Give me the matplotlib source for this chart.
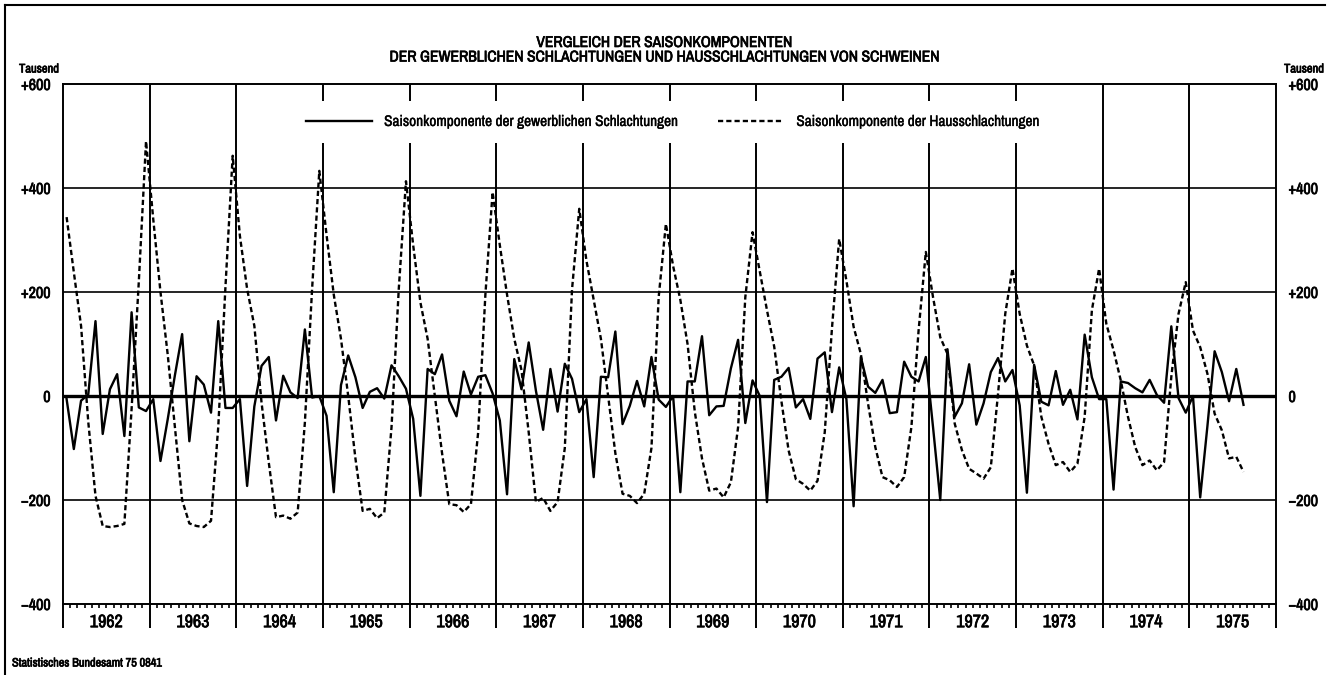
import numpy as np
import matplotlib
matplotlib.use("Agg")
import matplotlib.pyplot as plt
from matplotlib import font_manager
from matplotlib.lines import Line2D
import matplotlib.transforms as mtrans
import matplotlib.patheffects as pe

# Saisonkomponente der gewerblichen Schlachtungen (Tausend), Jan 1962 - Aug 1975
gewerbl_1962 = [-6, -102, -9, 3, 144, -73, 13, 42, -77, 161, -22, -29]
gewerbl_1963 = [-6, -125, -45, 40, 119, -87, 38, 22, -32, 144, -23, -23]
gewerbl_1964 = [-6, -173, -20, 58, 75, -47, 39, 7, -4, 128, -3, 0]
gewerbl_1965 = [-38, -185, 21, 78, 36, -23, 8, 15, -5, 59, 38, 14]
gewerbl_1966 = [-44, -192, 52, 42, 80, -9, -39, 47, 3, 37, 40, 5]
gewerbl_1967 = [-47, -189, 71, 13, 103, 10, -65, 52, -30, 62, 33, -31]
gewerbl_1968 = [-6, -156, 37, 36, 124, -54, -19, 29, -20, 75, -7, -21]
gewerbl_1969 = [0, -185, 28, 28, 115, -37, -20, -19, 53, 108, -52, 30]
gewerbl_1970 = [0, -204, 31, 37, 54, -22, -6, -44, 72, 84, -31, 55]
gewerbl_1971 = [-6, -212, 75, 18, 6, 31, -33, -31, 66, 37, 28, 75]
gewerbl_1972 = [-60, -200, 90, -40, -14, 61, -55, -14, 46, 73, 28, 50]
gewerbl_1973 = [-18, -186, 60, -11, -18, 48, -17, 12, -45, 118, 36, -6]
gewerbl_1974 = [-6, -180, 28, 25, 15, 7, 31, 2, -13, 134, -4, -32]
gewerbl_1975 = [0, -195, -58, 86, 46, -10, 52, -17]

# Saisonkomponente der Hausschlachtungen (Tausend)
haus_1962 = [344, 238, 135, -50, -192, -250, -252, -250, -246, -25, 220, 490]
haus_1963 = [340, 200, 80, -60, -200, -245, -250, -252, -240, -60, 210, 462]
haus_1964 = [308, 206, 135, -13, -128, -233, -230, -236, -224, -51, 206, 433]
haus_1965 = [310, 195, 110, 0, -120, -221, -217, -235, -224, -60, 205, 413]
haus_1966 = [290, 180, 110, 0, -110, -208, -210, -223, -208, -70, 195, 392]
haus_1967 = [290, 195, 110, 50, -70, -204, -196, -221, -204, -100, 205, 360]
haus_1968 = [260, 185, 110, 0, -110, -188, -192, -206, -188, -100, 190, 331]
haus_1969 = [250, 185, 100, -30, -120, -182, -178, -195, -166, -60, 190, 315]
haus_1970 = [240, 165, 95, -10, -105, -160, -169, -182, -163, -70, 130, 302]
haus_1971 = [222, 133, 81, -15, -98, -156, -162, -175, -156, -60, 126, 277]
haus_1972 = [190, 113, 81, -53, -104, -140, -149, -159, -137, 4, 158, 245]
haus_1973 = [158, 97, 59, -40, -92, -133, -127, -146, -130, -40, 165, 245]
haus_1974 = [139, 88, 30, -40, -98, -133, -124, -143, -127, 37, 158, 219]
haus_1975 = [126, 94, 43, -34, -66, -120, -117, -146]

years = [str(y) for y in range(1962, 1976)]
yticks = [-400, -200, 0, 200, 400, 600]
ytick_labels = ["\u2212400", "\u2212200", "0", "+200", "+400", "+600"]

gewerbl = (gewerbl_1962 + gewerbl_1963 + gewerbl_1964 + gewerbl_1965 + gewerbl_1966
           + gewerbl_1967 + gewerbl_1968 + gewerbl_1969 + gewerbl_1970 + gewerbl_1971
           + gewerbl_1972 + gewerbl_1973 + gewerbl_1974 + gewerbl_1975)
haus = (haus_1962 + haus_1963 + haus_1964 + haus_1965 + haus_1966 + haus_1967
        + haus_1968 + haus_1969 + haus_1970 + haus_1971 + haus_1972 + haus_1973
        + haus_1974 + haus_1975)

# look for a narrow/condensed face, else Roboto (narrower than DejaVu)
fonts = font_manager.fontManager.ttflist
narrow = sorted({f.name for f in fonts
                 if "Narrow" in f.name or "Condensed" in f.name})
cond = sorted({f.name for f in fonts
               if f.stretch in ("condensed", "semi-condensed", "extra-condensed")})
if narrow:
    fam, sc = narrow[0], 1.0
elif cond:
    fam, sc = cond[0], 1.0
    plt.rcParams["font.stretch"] = "condensed"
else:
    fam, sc = "Roboto", 0.85
plt.rcParams["font.family"] = [fam, "DejaVu Sans"]

# fake a heavier weight with a thin outline if there is no bold face
has_bold = any(f.name == fam and f.weight in ("bold", 700, "heavy", 800, 900)
               for f in fonts)
heavy = [] if has_bold else [pe.withStroke(linewidth=0.5, foreground="black")]
medium = [pe.withStroke(linewidth=0.25, foreground="black")]

fig = plt.figure(figsize=(13.28, 6.75), dpi=100)
ax = fig.add_axes([63 / 1328, 1 - 604 / 675, (1276 - 63) / 1328, (604 - 84) / 675])

n_months = 12 * len(years)
x = np.arange(len(gewerbl)) + 0.5

ax.set_xlim(0, n_months)
ax.set_ylim(-400, 600)

# grid
for v in [200, 400, -200]:
    ax.axhline(v, color="black", lw=1.2, zorder=1)
ax.axhline(0, color="black", lw=2.4, zorder=2)
for k in range(1, len(years)):
    ax.axvline(12 * k, color="black", lw=1.4, zorder=1)

ax.plot(x, gewerbl, color="black", lw=1.7, zorder=3)
ax.plot(x, haus, color="black", lw=1.7, ls=(0, (2.2, 1.3)), zorder=3)

for s in ax.spines.values():
    s.set_linewidth(1.4)

ax.set_xticks(np.arange(0, n_months + 1, 12))
ax.set_xticklabels([])
ax.set_xticks(np.arange(0, n_months + 1, 1), minor=True)
ax.tick_params(axis="x", which="major", direction="out", length=17, width=1.4)
ax.tick_params(axis="x", which="minor", direction="out", length=3, width=1.2)

trans = mtrans.blended_transform_factory(ax.transData, ax.transAxes)
for k, yr in enumerate(years):
    ax.text(12 * k + 6, -0.035, yr, transform=trans, ha="center", va="center",
            fontsize=13 * sc, fontweight="bold", path_effects=heavy)

ax.set_yticks(yticks)
ax.set_yticklabels(ytick_labels)
ax.tick_params(axis="y", length=0, labelsize=11.5 * sc, pad=9, labelright=True)
for t in ax.yaxis.get_major_ticks():
    for lab in (t.label1, t.label2):
        lab.set_fontweight("bold")
        lab.set_path_effects(heavy)

fig.text(39 / 1328, 1 - 69 / 675, "Tausend", ha="center", va="center",
         fontsize=9 * sc, fontweight="bold", path_effects=heavy)
fig.text(1304 / 1328, 1 - 69 / 675, "Tausend", ha="center", va="center",
         fontsize=9 * sc, fontweight="bold", path_effects=heavy)

fig.text(0.5, 1 - 43 / 675, "VERGLEICH DER SAISONKOMPONENTEN", ha="center",
         va="center", fontsize=11.2 * sc, fontweight="bold", path_effects=heavy)
fig.text(0.5, 1 - 57.5 / 675,
         "DER GEWERBLICHEN SCHLACHTUNGEN UND HAUSSCHLACHTUNGEN VON SCHWEINEN",
         ha="center", va="center", fontsize=11.2 * sc, fontweight="bold",
         path_effects=heavy)

fig.text(12 / 1328, 1 - 663 / 675, "Statistisches Bundesamt 75 0841",
         ha="left", va="center", fontsize=8.8 * sc, fontweight="bold",
         path_effects=heavy)

handles = [Line2D([], [], color="black", lw=1.7),
           Line2D([], [], color="black", lw=1.7, ls=(0, (2.2, 1.3)))]
leg = ax.legend(handles,
                ["Saisonkomponente der gewerblichen Schlachtungen",
                 "Saisonkomponente der Hausschlachtungen"],
                loc="center", bbox_to_anchor=(0.503, 0.927), ncol=2,
                fontsize=11 * sc, handlelength=4.3, columnspacing=2.6,
                frameon=True, fancybox=False, borderpad=0.9)
leg.get_frame().set_facecolor("white")
leg.get_frame().set_edgecolor("none")
leg.get_frame().set_alpha(1)
leg.set_zorder(5)
for t in leg.get_texts():
    t.set_path_effects(medium)

# outer frame (top and left)
fig.add_artist(Line2D([5 / 1328, 1325 / 1328], [1 - 5 / 675, 1 - 5 / 675],
                      transform=fig.transFigure, color="black", lw=1.5))
fig.add_artist(Line2D([5 / 1328, 5 / 1328], [0, 1 - 5 / 675],
                      transform=fig.transFigure, color="black", lw=1.5))

fig.savefig("out.png", dpi=100)
